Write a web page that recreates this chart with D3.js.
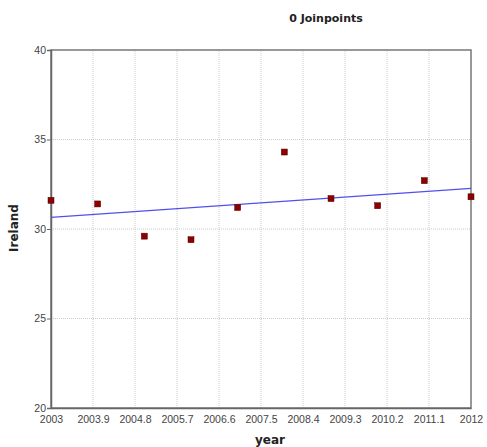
<!DOCTYPE html>
<html><head><meta charset="utf-8">
<script src="https://cdn.jsdelivr.net/npm/d3@7"></script>
<style>body{margin:0;background:#fff;}svg{display:block;}</style>
</head><body>
<script>
const years = [2003,2004,2005,2006,2007,2008,2009,2010,2011,2012];
const values = [31.6,31.4,29.6,29.4,31.2,34.3,31.7,31.3,32.7,31.8];
const trendYears = [2003,2012];
const trendValues = [30.65,32.27];
const xTicks = [2003,2003.9,2004.8,2005.7,2006.6,2007.5,2008.4,2009.3,2010.2,2011.1,2012];
const yTicks = [20,25,30,35,40];

const W=487,H=447;
const m={l:51,r:16,t:50,b:39};
const svg=d3.select("body").append("svg").attr("width",W).attr("height",H);
const x=d3.scaleLinear().domain([2003,2012]).range([m.l,W-m.r]);
const y=d3.scaleLinear().domain([20,40]).range([H-m.b,m.t]);

// grid
svg.append("g").selectAll("line").data(xTicks.slice(1,-1)).join("line")
 .attr("x1",d=>x(d)).attr("x2",d=>x(d)).attr("y1",y(20)).attr("y2",y(40))
 .attr("stroke","#cccccc").attr("stroke-width",1).attr("stroke-dasharray","1,1");
svg.append("g").selectAll("line").data(yTicks.slice(1,-1)).join("line")
 .attr("x1",x(2003)).attr("x2",x(2012)).attr("y1",d=>y(d)).attr("y2",d=>y(d))
 .attr("stroke","#cccccc").attr("stroke-width",1).attr("stroke-dasharray","1,1");

// frame
svg.append("rect").attr("x",x(2003)).attr("y",y(40)).attr("width",x(2012)-x(2003)).attr("height",y(20)-y(40))
 .attr("fill","none").attr("stroke","#777").attr("stroke-width",1.5);

// axes
const xa=svg.append("g").attr("transform",`translate(0,${y(20)})`)
 .call(d3.axisBottom(x).tickValues(xTicks).tickSize(0).tickPadding(8).tickFormat(d=>String(+d.toFixed(1))));
const ya=svg.append("g").attr("transform",`translate(${x(2003)},0)`)
 .call(d3.axisLeft(y).tickValues(yTicks).tickSize(4).tickPadding(1).tickFormat(d3.format("d")));
[xa,ya].forEach(a=>{a.select(".domain").attr("stroke","#666").attr("stroke-width",1.5);
 a.selectAll("text").attr("font-family","Arial, 'Liberation Sans', sans-serif").attr("font-size",10.5).attr("fill","#444");
 a.selectAll("line").attr("stroke","#666");});

// trend line
svg.append("path").datum(trendYears.map((d,i)=>[d,trendValues[i]]))
 .attr("d",d3.line().x(d=>x(d[0])).y(d=>y(d[1])))
 .attr("fill","none").attr("stroke","#5050ee").attr("stroke-width",1.2);

// points
svg.append("g").selectAll("rect").data(years.map((d,i)=>[d,values[i]])).join("rect")
 .attr("x",d=>x(d[0])-3).attr("y",d=>y(d[1])-3).attr("width",6).attr("height",6)
 .attr("fill","#8b0000").attr("stroke","#5a0000").attr("stroke-width",0.5);

// title & labels
svg.append("text").attr("x",326).attr("y",22).attr("text-anchor","middle")
 .attr("font-family","Verdana, 'DejaVu Sans', sans-serif").attr("font-weight","bold").attr("font-size",11).attr("fill","#222").text("0 Joinpoints");
svg.append("text").attr("x",270).attr("y",444).attr("text-anchor","middle")
 .attr("font-family","Verdana, 'DejaVu Sans', sans-serif").attr("font-weight","bold").attr("font-size",12).attr("fill","#222").text("year");
svg.append("text").attr("transform","translate(18,228) rotate(-90)").attr("text-anchor","middle")
 .attr("font-family","Verdana, 'DejaVu Sans', sans-serif").attr("font-weight","bold").attr("font-size",12).attr("fill","#222").text("Ireland");
</script>
</body></html>
